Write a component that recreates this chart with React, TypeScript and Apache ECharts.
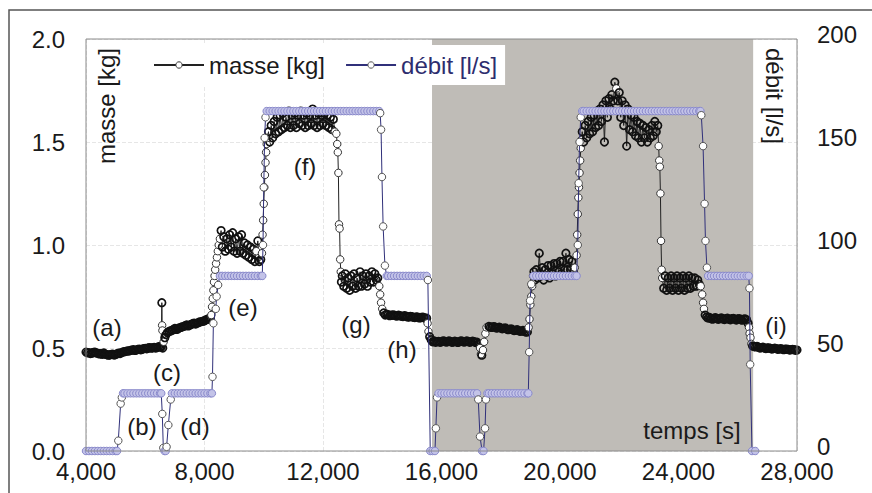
import React, { useEffect, useRef } from 'react';
import * as echarts from 'echarts';

// ---- mass [kg] (left axis), time [s] ----
const masseA: [number, number][] = [
  [4000,0.48],[4050,0.477],[4100,0.478],[4150,0.473],[4200,0.475],[4250,0.479],[4300,0.48],[4350,0.476],
  [4400,0.474],[4450,0.471],[4500,0.472],[4550,0.469],[4600,0.476],[4650,0.47],[4700,0.468],[4750,0.465],
  [4800,0.466],[4850,0.469],[4900,0.47],[4950,0.466],[5000,0.468],[5050,0.472],[5100,0.475],[5150,0.473],
  [5200,0.478],[5250,0.481],[5300,0.482],[5350,0.484],[5400,0.486],[5450,0.485],[5500,0.488],[5550,0.49],
  [5600,0.492],[5650,0.488],[5700,0.49],[5750,0.493],[5800,0.495],[5850,0.491],[5900,0.494],[5950,0.497],
  [6000,0.498],[6050,0.496],[6100,0.5],[6150,0.502],[6200,0.499],[6250,0.501],[6300,0.503],[6350,0.5],
  [6400,0.502],[6450,0.506],[6500,0.505],[6540,0.505]
];
const masseC: [number, number][] = [
  [6560,0.72],[6570,0.61],[6580,0.585],[6590,0.5],[6620,0.53],[6660,0.55],[6700,0.565],[6750,0.575],
  [6800,0.58],[6850,0.583],[6900,0.585],[6950,0.59],[7000,0.595],[7050,0.59],[7100,0.592],[7150,0.598],
  [7200,0.6],[7250,0.603],[7300,0.605],[7350,0.608],[7400,0.612],[7450,0.607],[7500,0.61],[7550,0.615],
  [7600,0.618],[7650,0.621],[7700,0.616],[7750,0.62],[7800,0.624],[7850,0.627],[7900,0.628],[7950,0.63],
  [8000,0.632],[8050,0.637],[8100,0.64],[8150,0.642],[8200,0.645]
];
const masseE: [number, number][] = [
  [8230,0.66],[8255,0.7],[8280,0.74],[8300,0.78],[8320,0.82],[8340,0.85],[8360,0.88],[8390,0.91],
  [8420,0.94],[8450,0.97],[8480,1.0],[8520,1.03],[8560,1.07],[8600,0.99],[8650,1.04],[8700,0.97],
  [8750,1.03],[8800,0.98],[8850,1.05],[8900,0.99],[8950,1.06],[9000,0.97],[9050,1.03],[9100,0.96],
  [9150,1.04],[9200,0.97],[9250,1.05],[9300,0.96],[9350,1.01],[9400,0.95],[9450,1.0],[9500,0.94],
  [9550,0.99],[9600,0.93],[9650,0.98],[9700,0.92],[9750,0.97],[9800,1.02],[9850,0.92],[9900,0.93]
];
const masseF: [number, number][] = [
  [9940,0.96],[9960,1.05],[9980,1.12],[10000,1.2],[10020,1.28],[10040,1.34],[10060,1.4],[10080,1.45],
  [10100,1.49],[10130,1.52],[10160,1.55],[10200,1.5],[10250,1.58],[10300,1.52],[10350,1.6],[10400,1.54],
  [10450,1.62],[10500,1.55],[10550,1.63],[10600,1.56],[10650,1.64],[10700,1.57],[10750,1.62],[10800,1.58],
  [10850,1.65],[10900,1.57],[10950,1.63],[11000,1.58],[11050,1.64],[11100,1.57],[11150,1.63],[11200,1.59],
  [11250,1.65],[11300,1.58],[11350,1.63],[11400,1.57],[11450,1.64],[11500,1.58],[11550,1.63],[11600,1.59],
  [11650,1.66],[11700,1.58],[11750,1.63],[11800,1.57],[11850,1.64],[11900,1.58],[11950,1.63],[12000,1.59],
  [12050,1.64],[12100,1.58],[12150,1.63],[12200,1.57],[12250,1.62],[12300,1.56],[12350,1.61],[12400,1.55],
  [12450,1.54]
];
const masseG: [number, number][] = [
  [12480,1.49],[12500,1.45],[12520,1.35],[12540,1.1],[12560,1.08],[12580,0.93],[12600,0.87],[12620,0.82],
  [12650,0.85],[12700,0.8],[12750,0.86],[12800,0.79],[12850,0.84],[12900,0.78],[12950,0.85],[13000,0.8],
  [13050,0.86],[13100,0.79],[13150,0.84],[13200,0.8],[13250,0.87],[13300,0.8],[13350,0.85],[13400,0.81],
  [13450,0.86],[13500,0.8],[13550,0.85],[13600,0.82],[13650,0.87],[13700,0.82],[13750,0.86],[13800,0.83],
  [13850,0.84],[13900,0.8],[13930,0.76],[13960,0.72],[14000,0.69],[14050,0.67],
  [14100,0.66],[14150,0.664],[14200,0.662],[14250,0.657],[14300,0.658],[14350,0.661],[14400,0.66],[14450,0.656],
  [14500,0.655],[14550,0.659],[14600,0.657],[14650,0.654],[14700,0.653],[14750,0.657],[14800,0.655],[14850,0.651],
  [14900,0.65],[14950,0.654],[15000,0.652],[15050,0.649],[15100,0.648],[15150,0.651],[15200,0.65],[15250,0.646],
  [15300,0.647],[15350,0.65],[15400,0.648],[15450,0.644],[15500,0.645]
];
const masseH: [number, number][] = [
  [15530,0.62],[15560,0.58],[15600,0.555],[15650,0.54],
  [15700,0.53],[15750,0.534],[15800,0.528],[15850,0.531],[15900,0.532],[15950,0.528],[16000,0.53],[16050,0.534],
  [16100,0.533],[16150,0.529],[16200,0.53],[16250,0.534],[16300,0.532],[16350,0.528],[16400,0.529],[16450,0.533],
  [16500,0.531],[16550,0.527],[16600,0.53],[16650,0.534],[16700,0.533],[16750,0.529],[16800,0.53],[16850,0.534],
  [16900,0.532],[16950,0.528],[17000,0.53],[17050,0.533],[17100,0.531],[17150,0.527],[17200,0.528],
  [17250,0.52],[17300,0.5],[17330,0.47],[17360,0.465],[17400,0.49],[17440,0.53],[17480,0.57],[17520,0.6],
  [17600,0.605],[17650,0.601],[17700,0.6],[17750,0.604],[17800,0.602],[17850,0.597],[17900,0.598],[17950,0.601],
  [18000,0.597],[18050,0.593],[18100,0.595],[18150,0.598],[18200,0.592],[18250,0.589],[18300,0.59],[18350,0.593],
  [18400,0.588],[18450,0.585],[18500,0.586],[18550,0.589],[18600,0.585],[18650,0.581],[18700,0.582],[18750,0.585],
  [18800,0.58],[18850,0.577],[18900,0.578]
];
const masseJ: [number, number][] = [
  [18940,0.6],[18970,0.64],[19000,0.71],[19030,0.75],[19060,0.8],[19090,0.85],[19120,0.87],[19150,0.83],
  [19200,0.88],[19250,0.84],[19300,0.96],[19350,0.85],[19400,0.89],[19450,0.83],[19500,0.88],[19550,0.85],
  [19600,0.9],[19650,0.84],[19700,0.9],[19750,0.86],[19800,0.91],[19850,0.85],[19900,0.91],[19950,0.87],
  [20000,0.92],[20050,0.86],[20100,0.92],[20150,0.88],[20200,0.96],[20250,0.88],[20300,0.93],[20350,0.88],
  [20400,0.92],[20450,0.87],[20500,0.89]
];
const masseK: [number, number][] = [
  [20560,0.95],[20580,1.05],[20600,1.15],[20620,1.23],[20640,1.28],[20660,1.35],[20680,1.41],[20700,1.47],
  [20720,1.51],[20750,1.55],[20800,1.5],[20850,1.58],[20900,1.52],[20950,1.6],[21000,1.54],[21050,1.62],
  [21100,1.55],[21150,1.63],[21200,1.57],[21250,1.65],[21300,1.58],[21350,1.66],[21400,1.6],[21450,1.68],
  [21500,1.5],[21550,1.7],[21600,1.62],[21650,1.71],[21700,1.66],[21750,1.73],[21800,1.7],[21850,1.79],
  [21900,1.76],[21950,1.7],[22000,1.74],[22050,1.62],[22100,1.7],[22150,1.58],[22200,1.68],[22250,1.48],
  [22300,1.66],[22350,1.56],[22400,1.63],[22450,1.55],[22500,1.62],[22550,1.53],[22600,1.6],[22650,1.52],
  [22700,1.59],[22750,1.5],[22800,1.58],[22850,1.52],[22900,1.57],[22950,1.5],[23000,1.56],[23050,1.52],
  [23100,1.58],[23150,1.53],[23200,1.6],[23250,1.55],[23300,1.58]
];
const masseL: [number, number][] = [
  [23330,1.48],[23350,1.41],[23370,1.38],[23390,1.25],[23410,1.02],[23430,0.88],[23450,0.84],[23500,0.79],
  [23550,0.85],[23600,0.78],[23650,0.84],[23700,0.79],[23750,0.85],[23800,0.78],[23850,0.84],[23900,0.79],
  [23950,0.85],[24000,0.78],[24050,0.84],[24100,0.79],[24150,0.85],[24200,0.78],[24250,0.84],[24300,0.79],
  [24350,0.85],[24400,0.79],[24450,0.84],[24500,0.8],[24550,0.84],[24600,0.8],[24650,0.83],[24700,0.81],
  [24750,0.8],[24800,0.76],[24830,0.72],[24860,0.69],[24900,0.66],[24950,0.65],
  [25000,0.645],[25050,0.648],[25100,0.643],[25150,0.64],[25200,0.645],[25250,0.647],[25300,0.642],[25350,0.639],
  [25400,0.644],[25450,0.646],[25500,0.641],[25550,0.638],[25600,0.643],[25650,0.645],[25700,0.64],[25750,0.637],
  [25800,0.642],[25850,0.644],[25900,0.639],[25950,0.636],[26000,0.641],[26050,0.643],[26100,0.638],[26150,0.635],
  [26200,0.64],[26250,0.641],[26300,0.637]
];
const masseM: [number, number][] = [
  [26350,0.62],[26380,0.6],[26400,0.57],[26430,0.55],[26460,0.52],[26500,0.51],[26550,0.507],[26600,0.505],
  [26650,0.508],[26700,0.503],[26750,0.5],[26800,0.502],[26850,0.504],[26900,0.5],[26950,0.497],[27000,0.5],
  [27050,0.501],[27100,0.498],[27150,0.495],[27200,0.497],[27250,0.499],[27300,0.497],[27350,0.494],[27400,0.495],
  [27450,0.497],[27500,0.495],[27550,0.492],[27600,0.494],[27650,0.495],[27700,0.493],[27750,0.49],[27800,0.492],
  [27850,0.493],[27900,0.492],[27950,0.489],[28000,0.49]
];

// ---- flow [l/s] (right axis), time [s] ----
const debitA: [number, number][] = [
  [4000,0],[4100,0],[4200,0],[4300,0],[4400,0],[4500,0],[4600,0],[4700,0],[4800,0],[4900,0],[5000,0],[5050,0],
  [5090,5],[5170,23],[5210,26],
  [5250,28],[5300,28],[5400,28],[5500,28],[5600,28],[5700,28],[5800,28],[5900,28],[6000,28],[6100,28],
  [6200,28],[6300,28],[6400,28],[6500,28],[6540,28],
  [6575,18],[6610,1.5],[6650,0],[6690,0],[6720,2],[6780,12.6],[6860,25]
];
const debitB: [number, number][] = [
  [6900,28],[7000,28],[7100,28],[7200,28],[7300,28],[7400,28],[7500,28],[7600,28],[7700,28],[7800,28],
  [7900,28],[8000,28],[8100,28],[8200,28],[8250,28],
  [8270,36],[8300,62],[8380,69],[8410,75],[8460,80.6],
  [8520,85],[8600,85],[8700,85],[8800,85],[8900,85],[9000,85],[9100,85],[9200,85],[9300,85],[9400,85],
  [9500,85],[9600,85],[9700,85],[9800,85],[9900,85],[9950,85],
  [9975,100],[10000,128],[10030,152],[10060,162]
];
const debitC: [number, number][] = [
  [10100,165],[10200,165],[10300,165],[10400,165],[10500,165],[10600,165],[10700,165],[10800,165],[10900,165],
  [11000,165],[11100,165],[11200,165],[11300,165],[11400,165],[11500,165],[11600,165],[11700,165],[11800,165],
  [11900,165],[12000,165],[12100,165],[12200,165],[12300,165],[12400,165],[12500,165],[12600,165],[12700,165],
  [12800,165],[12900,165],[13000,165],[13100,165],[13200,165],[13300,165],[13400,165],[13500,165],[13600,165],
  [13700,165],[13800,165],[13900,165],
  [13930,164],[13960,156],[13990,133],[14030,109],[14090,90],
  [14150,85],[14200,85],[14300,85],[14400,85],[14500,85],[14600,85],[14700,85],[14800,85],[14900,85],
  [15000,85],[15100,85],[15200,85],[15300,85],[15400,85],[15500,85],
  [15540,83],[15620,0],[15700,0],[15780,0],[15810,11],[15850,26]
];
const debitD: [number, number][] = [
  [15900,28],[16000,28],[16100,28],[16200,28],[16300,28],[16400,28],[16500,28],[16600,28],[16700,28],
  [16800,28],[16900,28],[17000,28],[17100,28],[17200,28],
  [17240,25],[17300,7],[17370,0],[17420,0],[17470,11],[17500,25],
  [17550,28],[17600,28],[17700,28],[17800,28],[17900,28],[18000,28],[18100,28],[18200,28],[18300,28],
  [18400,28],[18500,28],[18600,28],[18700,28],[18800,28],[18900,28],[18930,28],
  [18960,48],[18990,73],[19030,81],
  [19100,85],[19200,85],[19300,85],[19400,85],[19500,85],[19600,85],[19700,85],[19800,85],[19900,85],
  [20000,85],[20100,85],[20200,85],[20300,85],[20400,85],[20500,85],[20560,85],
  [20600,100],[20630,130],[20660,150],[20700,162]
];
const debitE: [number, number][] = [
  [20750,165],[20800,165],[20900,165],[21000,165],[21100,165],[21200,165],[21300,165],[21400,165],[21500,165],
  [21600,165],[21700,165],[21800,165],[21900,165],[22000,165],[22100,165],[22200,165],[22300,165],[22400,165],
  [22500,165],[22600,165],[22700,165],[22800,165],[22900,165],[23000,165],[23100,165],[23200,165],[23300,165],
  [23400,165],[23500,165],[23600,165],[23700,165],[23800,165],[23900,165],[24000,165],[24100,165],[24200,165],
  [24300,165],[24400,165],[24500,165],[24600,165],[24700,165],[24740,165],
  [24770,163],[24830,148],[24880,120],[24910,102],[24960,89],
  [25000,85],[25100,85],[25200,85],[25300,85],[25400,85],[25500,85],[25600,85],[25700,85],[25800,85],
  [25900,85],[26000,85],[26100,85],[26200,85],[26300,85],[26370,85],
  [26395,79],[26420,42],[26480,0],[26590,0]
];

const masse = [...masseA, ...masseC, ...masseE, ...masseF, ...masseG, ...masseH, ...masseJ, ...masseK, ...masseL, ...masseM];
const debit = [...debitA, ...debitB, ...debitC, ...debitD, ...debitE];

const shadedZone: [number, number] = [15680, 26520];
const seriesNames = ['masse [kg]', 'débit [l/s]'];

const notes = [
  { text: '(a)', x: 107, y: 327 },
  { text: '(b)', x: 142, y: 426 },
  { text: '(c)', x: 167, y: 372 },
  { text: '(d)', x: 195, y: 426 },
  { text: '(e)', x: 243, y: 307 },
  { text: '(f)', x: 305, y: 166 },
  { text: '(g)', x: 356, y: 324 },
  { text: '(h)', x: 402, y: 349 },
  { text: '(i)', x: 776, y: 325 },
  { text: 'temps [s]', x: 692, y: 430 },
];

export default function App() {
  const ref = useRef<HTMLDivElement>(null);
  useEffect(() => {
    const chart = echarts.init(ref.current!, null, { renderer: 'svg' });
    const font = "'Liberation Sans', Arial, sans-serif";

    // mass: points on a monotonic step (transition) are white-filled; dense flat/noisy points are hollow
    const massePts = masse.map((p, i) => {
      const prev = masse[i - 1];
      const next = masse[i + 1];
      const d1 = prev ? p[1] - prev[1] : 0;
      const d2 = next ? next[1] - p[1] : 0;
      const onStep = Math.max(Math.abs(d1), Math.abs(d2)) >= 0.03 && d1 * d2 > 0;
      return {
        value: p,
        itemStyle: onStep
          ? { color: '#ffffff', borderColor: '#333', borderWidth: 1 }
          : { color: 'rgba(255,255,255,0)', borderColor: '#111', borderWidth: 1.7 },
      };
    });
    // flow: points on a plateau form the lavender band; transition points are white
    const debitPts = debit.map((p, i) => {
      const prev = debit[i - 1];
      const next = debit[i + 1];
      const flat = (prev && prev[1] === p[1]) || (next && next[1] === p[1]);
      return {
        value: p,
        itemStyle: flat
          ? { color: '#c3c3e8', borderColor: '#8a8acb', borderWidth: 1 }
          : { color: '#ffffff', borderColor: '#555', borderWidth: 1 },
      };
    });
    const gridL = 86, gridT = 39, gridW = 711, gridH = 412;
    const axisText = { fontSize: 24, color: '#1a1a1a', fontFamily: font, lineHeight: 18 };
    chart.setOption({
      animation: false,
      textStyle: { fontFamily: font },
      grid: { left: gridL, right: 872 - gridL - gridW, top: gridT, bottom: 493 - gridT - gridH },
      legend: {
        left: 145, top: 45,
        padding: [8, 8, 8, 8],
        backgroundColor: '#ffffff',
        itemWidth: 50, itemHeight: 8, itemGap: 20,
        textStyle: { fontSize: 24, fontFamily: font },
        data: [
          { name: seriesNames[0], textStyle: { color: '#1a1a1a' }, itemStyle: { color: '#fff', borderColor: '#333', borderWidth: 1 } },
          { name: seriesNames[1], textStyle: { color: '#2d2d6e' }, itemStyle: { color: '#fff', borderColor: '#555', borderWidth: 1 } },
        ],
      },
      xAxis: {
        type: 'value', min: 4000, max: 28000, interval: 4000,
        axisLine: { show: false }, axisTick: { show: false },
        axisLabel: { ...axisText, margin: 11, formatter: (v: number) => v.toLocaleString('en-US') },
        splitLine: { show: true, lineStyle: { color: '#e6e6e6', type: 'dashed' } },
      },
      yAxis: [
        {
          type: 'value', min: 0, max: 2, interval: 0.5,
          axisLine: { show: false }, axisTick: { show: false },
          axisLabel: { ...axisText, margin: 21, formatter: (v: number) => v.toFixed(1) },
          splitLine: { show: true, lineStyle: { color: '#e6e6e6', type: 'dashed' } },
        },
        {
          type: 'value', min: 0, max: 200, interval: 50,
          axisLine: { show: false }, axisTick: { show: false },
          axisLabel: {
            margin: 20,
            formatter: (v: number) => `{r|${v}}`,
            rich: { r: { fontSize: 24, color: '#1a1a1a', fontFamily: font, lineHeight: 18, padding: [0, 0, 10, 0] } },
          },
          splitLine: { show: false },
        },
      ],
      series: [
        {
          type: 'line', name: 'zone', data: [], z: 1, silent: true,
          markArea: { silent: true, itemStyle: { color: '#bfbcb7' },
            data: [[{ xAxis: shadedZone[0] }, { xAxis: shadedZone[1] }]] },
        },
        {
          type: 'line', name: seriesNames[0], data: massePts, z: 3,
          symbol: 'circle', symbolSize: 7.5, showAllSymbol: true,
          lineStyle: { color: '#222', width: 1 },
          itemStyle: { color: '#ffffff', borderColor: '#1e1e1e', borderWidth: 1 },
        },
        {
          type: 'line', name: seriesNames[1], data: debitPts, yAxisIndex: 1, z: 4,
          symbol: 'circle', symbolSize: 7.5, showAllSymbol: true,
          lineStyle: { color: '#30307a', width: 1 },
          itemStyle: { color: '#ffffff', borderColor: '#8e8ed0', borderWidth: 1 },
        },
      ],
      graphic: [
        { type: 'rect', z: 100, silent: true, shape: { x: 9, y: 10, width: 900, height: 520 },
          style: { fill: 'none', stroke: '#555', lineWidth: 1.5 } },
        { type: 'rect', z: 100, silent: true, shape: { x: gridL, y: gridT, width: gridW, height: gridH },
          style: { fill: 'none', stroke: '#8a8a8a', lineWidth: 1 } },
        { type: 'text', z: 100, x: 106, y: 106, rotation: Math.PI / 2,
          style: { text: 'masse [kg]', fontSize: 24, fontFamily: font, fill: '#1a1a1a', align: 'center', verticalAlign: 'middle' } },
        { type: 'text', z: 100, x: 774, y: 96, rotation: -Math.PI / 2,
          style: { text: 'débit [l/s]', fontSize: 24, fontFamily: font, fill: '#1a1a1a', align: 'center', verticalAlign: 'middle' } },
        ...notes.map((n) => ({
          type: 'text', z: 100, x: n.x, y: n.y,
          style: { text: n.text, fontSize: 24, fontFamily: font, fill: '#1a1a1a', align: 'center', verticalAlign: 'middle' },
        })),
      ],
    });
    return () => chart.dispose();
  }, []);
  return (
    <div
      ref={ref}
      style={{ position: 'fixed', left: 0, top: 0, width: 872, height: 493, background: '#ffffff' }}
    />
  );
}
